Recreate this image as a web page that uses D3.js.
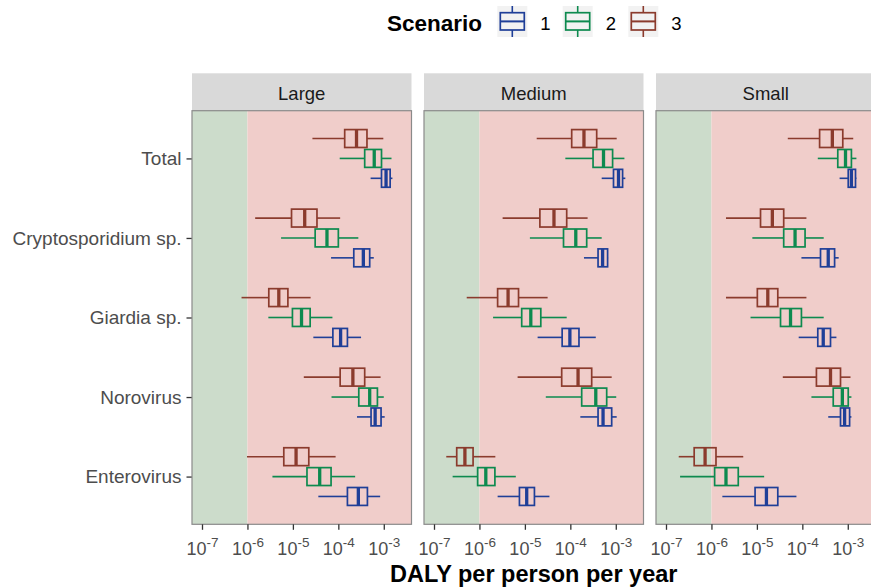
<!DOCTYPE html>
<html>
<head>
<meta charset="utf-8">
<script src="https://cdn.jsdelivr.net/npm/d3@7"></script>
<style>
  html, body { margin: 0; padding: 0; background: #ffffff; }
  svg { display: block; font-family: "Liberation Sans", Arial, sans-serif; }
</style>
</head>
<body>
<svg id="chart" width="871" height="587"></svg>
<script>
// Pathogens (top to bottom), scenarios and facet sizes
const categories = ["Total", "Cryptosporidium sp.", "Giardia sp.", "Norovirus", "Enterovirus"];
const scenarios = ["1", "2", "3"];
const sizes = ["Large", "Medium", "Small"];
const scenarioColors = ["#1f3f98", "#0d8a4f", "#8b3b2d"];
const tickExponents = [-7, -6, -5, -4, -3];
const toleranceExponent = -6; // 10^-6 DALY pppy reference level

// Box statistics as log10(DALY pppy): [whisker low, Q1, median, Q3, whisker high]
// Each category row lists scenario 1, 2, 3.
const largeStats = [
  [[-3.29, -3.05, -2.95, -2.86, -2.81], [-3.97, -3.42, -3.21, -3.05, -2.83], [-4.57, -3.86, -3.60, -3.37, -3.01]],
  [[-4.16, -3.66, -3.45, -3.31, -3.22], [-5.26, -4.51, -4.25, -4.00, -3.56], [-5.83, -5.03, -4.74, -4.47, -3.96]],
  [[-4.55, -4.12, -3.95, -3.80, -3.50], [-5.54, -5.01, -4.81, -4.62, -4.13], [-6.13, -5.53, -5.31, -5.11, -4.61]],
  [[-3.59, -3.28, -3.19, -3.06, -2.98], [-4.15, -3.55, -3.31, -3.14, -3.00], [-4.76, -3.96, -3.68, -3.42, -3.07]],
  [[-4.44, -3.80, -3.56, -3.36, -3.08], [-5.45, -4.69, -4.41, -4.16, -3.63], [-6.01, -5.20, -4.93, -4.65, -4.06]]
];
const mediumStats = [
  [[-3.31, -3.05, -2.94, -2.85, -2.79], [-4.11, -3.50, -3.27, -3.07, -2.81], [-4.74, -3.97, -3.70, -3.42, -2.98]],
  [[-3.70, -3.39, -3.29, -3.18, -3.17], [-4.89, -4.15, -3.88, -3.64, -3.31], [-5.49, -4.67, -4.36, -4.08, -3.62]],
  [[-4.72, -4.18, -4.01, -3.81, -3.44], [-5.70, -5.07, -4.87, -4.65, -4.08], [-6.28, -5.60, -5.37, -5.14, -4.50]],
  [[-3.78, -3.39, -3.28, -3.09, -2.98], [-4.54, -3.75, -3.44, -3.20, -2.99], [-5.16, -4.19, -3.83, -3.53, -3.09]],
  [[-5.60, -5.12, -4.96, -4.79, -4.46], [-6.59, -6.04, -5.86, -5.66, -5.20], [-6.73, -6.50, -6.32, -6.14, -5.65]]
];
const smallStats = [
  [[-3.18, -2.99, -2.92, -2.83, -2.81], [-3.66, -3.22, -3.05, -2.92, -2.81], [-4.32, -3.62, -3.34, -3.11, -2.88]],
  [[-4.02, -3.60, -3.43, -3.29, -3.20], [-5.10, -4.41, -4.16, -3.94, -3.53], [-5.68, -4.92, -4.66, -4.41, -3.91]],
  [[-4.08, -3.66, -3.54, -3.38, -3.25], [-5.14, -4.48, -4.26, -4.02, -3.53], [-5.68, -4.99, -4.76, -4.54, -3.91]],
  [[-3.43, -3.16, -3.07, -2.96, -2.92], [-3.80, -3.32, -3.12, -2.99, -2.92], [-4.43, -3.69, -3.38, -3.16, -2.94]],
  [[-5.76, -5.04, -4.79, -4.54, -4.13], [-6.69, -5.93, -5.68, -5.41, -4.84], [-6.72, -6.38, -6.14, -5.90, -5.30]]
];
const statsBySize = [largeStats, mediumStats, smallStats];

// Layout
const panelTop = 110.7, panelBottom = 524.3;
const stripTop = 73.3;
const panelLeft0 = 192, panelWidth = 219.5, panelGap = 12.5;
const xDomain = [Math.pow(10, -7.22), Math.pow(10, -2.39)];

const svg = d3.select("#chart");

const y = d3.scalePoint().domain(categories).range([panelTop, panelBottom]).padding(0.6);
const step = y.step();
const dodge = d3.scalePoint().domain(["3", "2", "1"]).range([-0.25 * step, 0.25 * step]);
const boxH = 0.225 * step;
const color = d3.scaleOrdinal().domain(scenarios).range(scenarioColors);

// Y axis labels (left of first panel)
const yAxis = d3.axisLeft(y).tickSizeInner(5.5).tickSizeOuter(0).tickPadding(5);
const yg = svg.append("g").attr("transform", `translate(${panelLeft0},0)`).call(yAxis);
yg.select(".domain").remove();
yg.selectAll(".tick line").attr("stroke", "#333333").attr("stroke-width", 1.3);
yg.selectAll(".tick text").attr("fill", "#4d4d4d").style("font-size", "19px")
  .style("font-family", "'Liberation Sans', Arial, sans-serif");

sizes.forEach((size, si) => {
  const left = panelLeft0 + si * (panelWidth + panelGap);
  const x = d3.scaleLog().domain(xDomain).range([left, left + panelWidth]);
  const g = svg.append("g");

  // Strip
  g.append("rect").attr("x", left).attr("y", stripTop).attr("width", panelWidth)
    .attr("height", panelTop - stripTop).attr("fill", "#d9d9d9");
  g.append("text").attr("x", left + panelWidth / 2).attr("y", 99.5)
    .attr("text-anchor", "middle").attr("fill", "#1a1a1a").style("font-size", "18.5px").text(size);

  // Background bands: below / above 10^-6
  const xt = x(Math.pow(10, toleranceExponent));
  g.append("rect").attr("x", left).attr("y", panelTop).attr("width", xt - left)
    .attr("height", panelBottom - panelTop).attr("fill", "#ccdccb");
  g.append("rect").attr("x", xt).attr("y", panelTop).attr("width", left + panelWidth - xt)
    .attr("height", panelBottom - panelTop).attr("fill", "#f0cdca");

  // Boxplots
  const stats = statsBySize[si];
  categories.forEach((cat, ci) => {
    scenarios.forEach((sc, k) => {
      const s = stats[ci][k].map(v => Math.pow(10, v));
      const cy = y(cat) + dodge(sc);
      const col = color(sc);
      const bg = g.append("g").attr("stroke", col).attr("fill", "none");
      bg.append("line").attr("x1", x(s[0])).attr("x2", x(s[1])).attr("y1", cy).attr("y2", cy).attr("stroke-width", 1.6);
      bg.append("line").attr("x1", x(s[3])).attr("x2", x(s[4])).attr("y1", cy).attr("y2", cy).attr("stroke-width", 1.6);
      bg.append("rect").attr("x", x(s[1])).attr("y", cy - boxH / 2)
        .attr("width", x(s[3]) - x(s[1])).attr("height", boxH).attr("stroke-width", 1.7);
      bg.append("line").attr("x1", x(s[2])).attr("x2", x(s[2]))
        .attr("y1", cy - boxH / 2).attr("y2", cy + boxH / 2).attr("stroke-width", 3.3);
    });
  });

  // Panel border
  g.append("rect").attr("x", left).attr("y", panelTop).attr("width", panelWidth)
    .attr("height", panelBottom - panelTop).attr("fill", "none").attr("stroke", "#8a8a8a").attr("stroke-width", 1.2);

  // X axis
  const xAxis = d3.axisBottom(x).tickValues(tickExponents.map(e => Math.pow(10, e)))
    .tickSizeInner(5.5).tickSizeOuter(0).tickPadding(4).tickFormat(() => "");
  const xg = g.append("g").attr("transform", `translate(0,${panelBottom})`).call(xAxis);
  xg.select(".domain").remove();
  xg.selectAll(".tick line").attr("stroke", "#333333").attr("stroke-width", 1.3);
  xg.selectAll(".tick text").remove();
  xg.selectAll(".tick").each(function(d, i) {
    const t = d3.select(this).append("text").attr("y", 31).attr("text-anchor", "middle")
      .attr("fill", "#4d4d4d").style("font-size", "18px");
    t.append("tspan").text("10");
    t.append("tspan").attr("dy", -8).style("font-size", "13.5px").text(String(tickExponents[i]));
  });
});

// X axis title
svg.append("text").attr("x", panelLeft0 + (3 * panelWidth + 2 * panelGap) / 2).attr("y", 582)
  .attr("text-anchor", "middle").attr("font-weight", "bold").attr("fill", "#000")
  .style("font-size", "23.5px").text("DALY per person per year");

// Legend
const legend = svg.append("g");
legend.append("text").attr("x", 387).attr("y", 31).attr("font-weight", "bold")
  .style("font-size", "22.5px").attr("fill", "#000").text("Scenario");
const keyX = [497.3, 562.7, 628.3];
scenarios.forEach((sc, k) => {
  const kx = keyX[k], ky = 6, kw = 30, kh = 31;
  const col = color(sc);
  const cx = kx + kw / 2;
  legend.append("rect").attr("x", kx).attr("y", ky).attr("width", kw).attr("height", kh).attr("fill", "#f2f2f2");
  const kg = legend.append("g").attr("stroke", col).attr("fill", "none");
  kg.append("line").attr("x1", cx).attr("x2", cx).attr("y1", ky).attr("y2", ky + 6.7).attr("stroke-width", 1.6);
  kg.append("line").attr("x1", cx).attr("x2", cx).attr("y1", ky + 24).attr("y2", ky + kh).attr("stroke-width", 1.6);
  kg.append("rect").attr("x", kx + 3).attr("y", ky + 6.7).attr("width", kw - 6).attr("height", 17.3).attr("stroke-width", 1.7);
  kg.append("line").attr("x1", kx + 3).attr("x2", kx + kw - 3).attr("y1", ky + 15.4).attr("y2", ky + 15.4).attr("stroke-width", 2);
  legend.append("text").attr("x", kx + kw + 13).attr("y", 29.5).style("font-size", "18.5px").attr("fill", "#000").text(sc);
});
</script>
</body>
</html>
